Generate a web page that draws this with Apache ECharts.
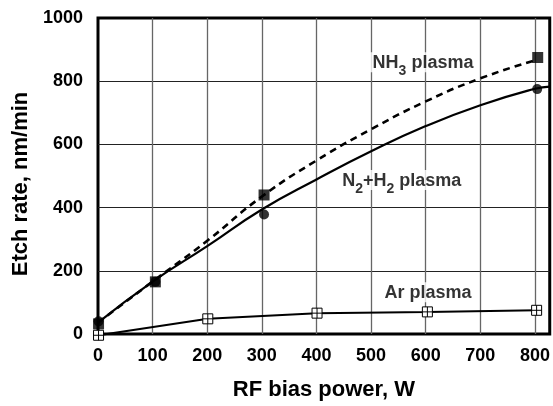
<!DOCTYPE html>
<html>
<head>
  <meta charset="utf-8" />
  <title>Etch rate vs RF bias power</title>
  <script src="https://cdn.jsdelivr.net/npm/echarts@6/dist/echarts.min.js"></script>
  <style>
    html, body { margin: 0; padding: 0; background: #fff; }
    #chart { width: 553px; height: 406px; }
  </style>
</head>
<body>
  <div id="chart"></div>
  <script>
    // measured markers
    const arPower = [1, 201, 401, 603, 803]
    const arRate = [-4, 48, 66, 70, 75]
    const n2h2Power = [1, 105, 304, 804]
    const n2h2Rate = [40, 165, 378, 775]
    const nh3Power = [1, 105, 304, 805]
    const nh3Rate = [32, 165, 440, 875]

    // fitted curves as drawn in the figure
    const n2h2CurveX = [0, 100, 200, 300, 400, 500, 600, 700, 800, 827]
    const n2h2CurveY = [36, 166, 278, 394, 489, 578, 658, 724, 776, 783]
    const nh3CurveX = [0, 100, 200, 300, 400, 500, 600, 700, 800]
    const nh3CurveY = [36, 166, 295, 435, 549, 648, 736, 809, 866]

    const xTicks = [0, 100, 200, 300, 400, 500, 600, 700, 800]

    // in-plot captions: [x, y, text]
    const captions = [
      [595, 860, "{m|NH}{s|3}{m| plasma}"],
      [556, 487, "{m|N}{s|2}{m|+H}{s|2}{m| plasma}"],
      [604, 132, "{m|Ar plasma}"]
    ]

    const font = "'Liberation Sans', Arial, Helvetica, sans-serif"
    const zip = (xs, ys) => xs.map((x, i) => [x, ys[i]])

    const arSymbol = "path://M0,0L10,0L10,10L0,10Z M5,0L5,10 M0,5L10,5"

    const chart = echarts.init(document.getElementById("chart"), null, { renderer: "canvas" })

    chart.setOption({
      animation: false,
      backgroundColor: "#fff",
      grid: {
        show: true,
        left: 98,
        right: 3,
        top: 18,
        bottom: 66.5,
        borderColor: "#000",
        borderWidth: 3,
        backgroundColor: "transparent"
      },
      xAxis: {
        type: "value",
        min: 0,
        max: 827,
        interval: 100,
        name: "RF bias power, W",
        nameLocation: "middle",
        nameGap: 45,
        nameTextStyle: { fontFamily: font, fontWeight: "bold", fontSize: 22, color: "#000" },
        axisLine: { show: false },
        axisTick: { show: false },
        axisLabel: {
          margin: 13,
          fontFamily: font,
          fontWeight: "bold",
          fontSize: 18,
          color: "#000",
          formatter: (v) => (xTicks.indexOf(v) >= 0 ? String(v) : "")
        },
        splitLine: {
          show: true,
          showMinLine: false,
          showMaxLine: false,
          lineStyle: { color: "#666", width: 1.3 }
        }
      },
      yAxis: {
        type: "value",
        min: 0,
        max: 1000,
        interval: 200,
        name: "Etch rate, nm/min",
        nameLocation: "middle",
        nameGap: 53,
        nameTextStyle: {
          fontFamily: font,
          fontWeight: "bold",
          fontSize: 22,
          color: "#000",
          padding: [0, 16, 0, 0]
        },
        axisLine: { show: false },
        axisTick: { show: false },
        axisLabel: {
          margin: 15,
          fontFamily: font,
          fontWeight: "bold",
          fontSize: 18,
          color: "#000",
          formatter: (v) => String(v)
        },
        splitLine: {
          show: true,
          showMinLine: false,
          showMaxLine: false,
          lineStyle: { color: "#222", width: 1 }
        }
      },
      series: [
        {
          type: "line",
          data: zip(nh3CurveX, nh3CurveY),
          smooth: 0.5,
          showSymbol: false,
          lineStyle: { color: "#000", width: 2.6, type: [7, 5] },
          z: 2
        },
        {
          type: "line",
          data: zip(n2h2CurveX, n2h2CurveY),
          smooth: 0.5,
          showSymbol: false,
          lineStyle: { color: "#000", width: 2.2 },
          z: 2
        },
        {
          type: "line",
          data: zip(arPower, arRate),
          clip: false,
          symbol: arSymbol,
          symbolSize: 10,
          showAllSymbol: true,
          lineStyle: { color: "#000", width: 2 },
          itemStyle: { color: "#fff", borderColor: "#000", borderWidth: 1 },
          z: 3
        },
        {
          type: "scatter",
          data: zip(nh3Power, nh3Rate),
          clip: false,
          symbol: "rect",
          symbolSize: 11,
          itemStyle: { color: "#000" },
          z: 4
        },
        {
          type: "scatter",
          data: zip(n2h2Power, n2h2Rate),
          clip: false,
          symbol: "circle",
          symbolSize: 10,
          itemStyle: { color: "#000" },
          z: 4
        },
        {
          type: "scatter",
          data: captions.map((c) => ({ value: [c[0], c[1]], name: c[2] })),
          symbolSize: 0,
          silent: true,
          z: 5,
          label: {
            show: true,
            position: "inside",
            align: "center",
            verticalAlign: "middle",
            formatter: (p) => p.name,
            backgroundColor: "#fff",
            padding: [2, 4, 0, 4],
            rich: {
              m: {
                fontFamily: font,
                fontWeight: "bold",
                fontSize: 18,
                lineHeight: 18,
                color: "#000",
                verticalAlign: "top"
              },
              s: {
                fontFamily: font,
                fontWeight: "bold",
                fontSize: 14,
                lineHeight: 14,
                color: "#000",
                verticalAlign: "top",
                padding: [10, 0, 0, 0]
              }
            }
          }
        }
      ]
    })
  </script>
</body>
</html>
